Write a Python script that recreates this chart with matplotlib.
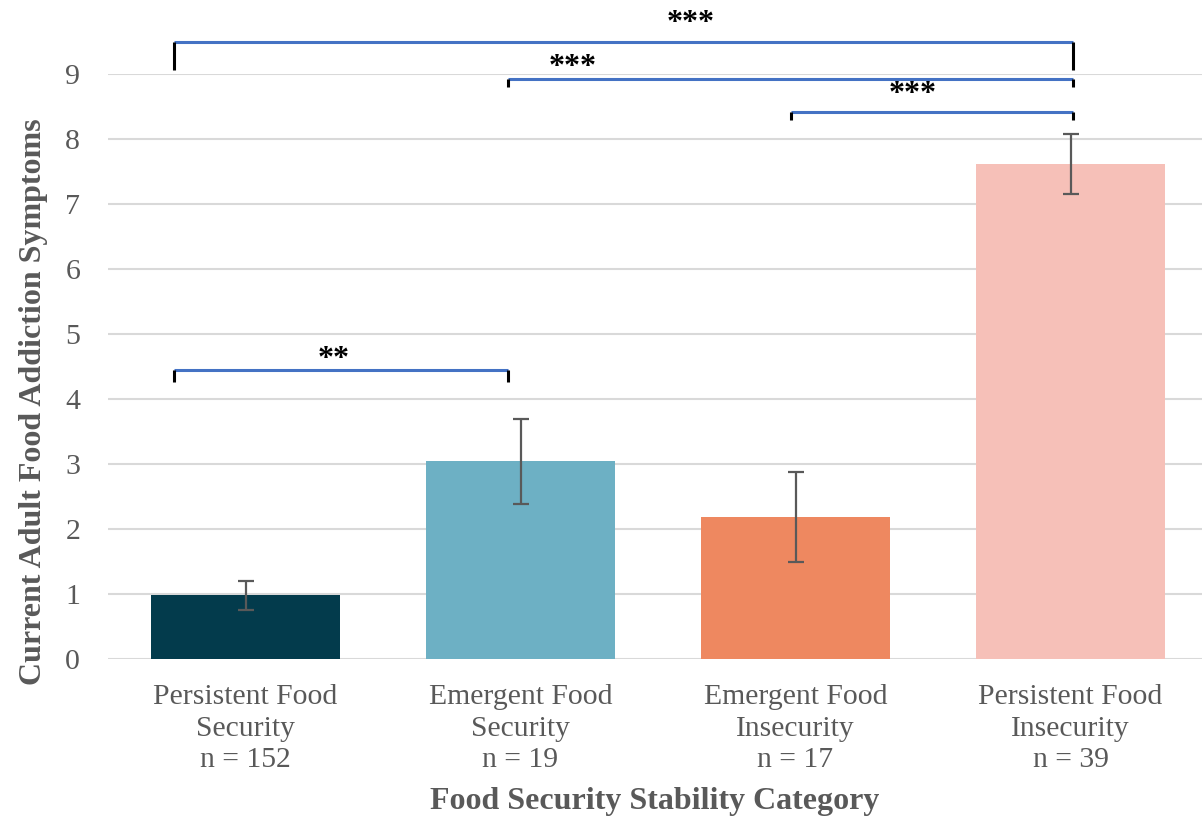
import matplotlib
matplotlib.use("Agg")
import matplotlib.pyplot as plt

plt.rcParams['font.family'] = ['Liberation Serif', 'DejaVu Serif']

# data
categories = ["Persistent Food\nSecurity\nn = 152", "Emergent Food\nSecurity\nn = 19",
              "Emergent Food\nInsecurity\nn = 17", "Persistent Food\nInsecurity\nn = 39"]
means = [0.98, 3.04, 2.18, 7.62]
err_low = [0.23, 0.66, 0.69, 0.46]
err_high = [0.22, 0.66, 0.69, 0.45]
colors = ["#033B4C", "#6DB0C4", "#EE8860", "#F6C0B8"]

# significance brackets: (x start, x end, height, tick drop, label, label x, label y)
brackets = [
    (-0.26, 3.01, 9.49, 0.43, "***", 1.62, 9.88),
    (0.955, 3.01, 8.92, 0.12, "***", 1.19, 9.20),
    (1.985, 3.01, 8.42, 0.13, "***", 2.425, 8.79),
    (-0.26, 0.955, 4.45, 0.19, "**", 0.32, 4.71),
]

fig = plt.figure(figsize=(12.02, 8.23), dpi=100)
ax = fig.add_axes([108 / 1202, 1 - 659 / 823, 1 - 108 / 1202, (659 - 74) / 823])

x = range(len(categories))
ax.bar(x, means, width=0.69, color=colors, zorder=2)
ax.errorbar(x, means, yerr=[err_low, err_high], fmt='none', ecolor='#595959',
            elinewidth=1.6, capsize=6, capthick=1.6, zorder=3)

for x0, x1, h, drop, label, lx, ly in brackets:
    ax.plot([x0, x1], [h, h], color='#4472C4', lw=2.2, clip_on=False, zorder=4,
            solid_capstyle='butt')
    ax.plot([x0, x0], [h, h - drop], color='black', lw=2.2, clip_on=False, zorder=5,
            solid_capstyle='butt')
    ax.plot([x1, x1], [h, h - drop], color='black', lw=2.2, clip_on=False, zorder=5,
            solid_capstyle='butt')
    # ly is where the middle of the asterisks sits; shift down to the baseline
    ax.text(lx, ly - 0.22, label, ha='center', va='baseline', fontsize=23,
            fontweight='bold', color='black')

ax.set_xlim(-0.5, 3.478)
ax.set_ylim(0, 9)
ax.set_yticks(range(10))
ax.set_xticks(list(x))
ax.set_xticklabels(categories, fontsize=21.3, color='#595959', linespacing=1.28)
ax.tick_params(axis='y', labelsize=21.5, colors='#595959', length=0, pad=20)
ax.tick_params(axis='x', length=0, pad=18)
ax.grid(axis='y', color='#D9D9D9', lw=1.5, zorder=0)
ax.set_axisbelow(True)
for s in ax.spines.values():
    s.set_visible(False)

ax.set_xlabel("Food Security Stability Category", fontsize=23, fontweight='bold',
              color='#595959', labelpad=10)
ax.set_ylabel("Current Adult Food Addiction Symptoms", fontsize=23, fontweight='bold',
              color='#595959')
ax.yaxis.set_label_coords(-0.055, 0.439)

fig.savefig("out.png", dpi=100)
